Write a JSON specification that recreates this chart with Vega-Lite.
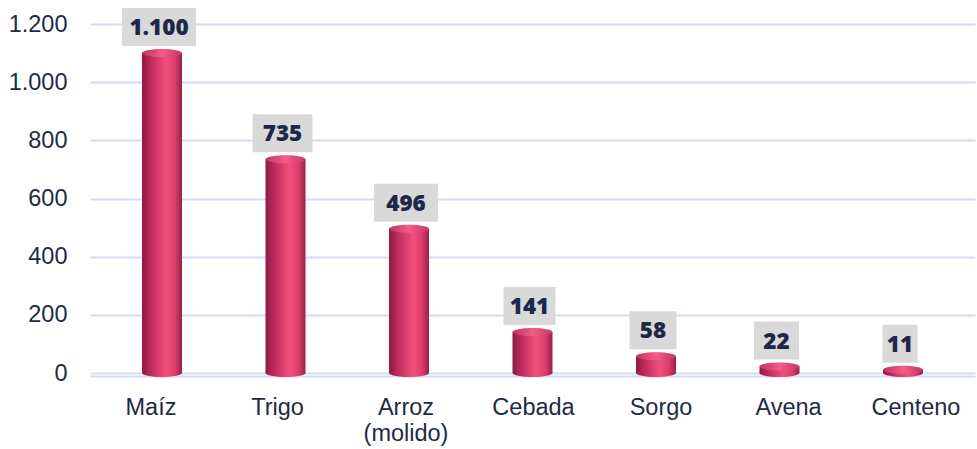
{
  "$schema": "https://vega.github.io/schema/vega-lite/v6.json",
  "autosize": "none",
  "width": 885,
  "height": 349,
  "padding": {"left": 90, "top": 24, "right": 2, "bottom": 76},
  "background": "white",
  "config": {"view": {"stroke": null}, "font": "Liberation Sans"},
  "data": {"values": [
    {"cat": "Maíz", "v": 1100},
    {"cat": "Trigo", "v": 735},
    {"cat": "Arroz (molido)", "v": 496},
    {"cat": "Cebada", "v": 141},
    {"cat": "Sorgo", "v": 58},
    {"cat": "Avena", "v": 22},
    {"cat": "Centeno", "v": 11}
  ]},
  "transform": [{"calculate": "replace(format(datum.v, ','), ',', '.')", "as": "lbl"}],
  "encoding": {
    "x": {"field": "cat", "type": "nominal", "sort": null,
      "scale": {"paddingInner": 0, "paddingOuter": 0.083},
      "axis": {"title": null, "labelAngle": 0, "ticks": false, "offset": 3,
        "domainColor": "#D5DCF0", "domainWidth": 2, "labelFontSize": 23.5, "labelColor": "#1F2A44",
        "labelPadding": 19, "labelLineHeight": 26,
        "labelOffset": {"expr": "datum.value == 'Maíz' ? -11 : datum.value == 'Trigo' ? -8 : datum.value == 'Arroz (molido)' ? -3 : datum.value == 'Cebada' ? 1 : datum.value == 'Sorgo' ? 5 : datum.value == 'Avena' ? 9 : 13"},
        "labelExpr": "split(datum.label, ' ')"}},
    "y": {"field": "v", "type": "quantitative",
      "scale": {"domain": [0, 1200], "nice": false},
      "axis": {"title": null, "values": [0, 200, 400, 600, 800, 1000, 1200], "domain": false, "ticks": false,
        "labelFontSize": 23.5, "labelColor": "#1F2A44", "labelPadding": 23,
        "labelExpr": "replace(format(datum.value, ','), ',', '.')",
        "gridColor": "#D5DCF0", "gridWidth": 2}}
  },
  "layer": [
    {"mark": {"type": "bar", "width": 40,
      "fill": {"gradient": "linear", "x1": 0, "x2": 1, "y1": 0, "y2": 0,
        "stops": [{"offset": 0, "color": "#8E1A43"}, {"offset": 0.25, "color": "#C42D5F"}, {"offset": 0.6, "color": "#F2507E"}, {"offset": 0.82, "color": "#DC3D6C"}, {"offset": 1, "color": "#9A214B"}]}}},
    {"mark": {"type": "point", "filled": true, "size": 4, "opacity": 1,
      "shape": "M-20,0A20,4 0 1,0 20,0A20,4 0 1,0 -20,0Z",
      "fill": {"gradient": "linear", "x1": 0, "x2": 1, "y1": 0, "y2": 0,
        "stops": [{"offset": 0, "color": "#8E1A43"}, {"offset": 0.25, "color": "#C42D5F"}, {"offset": 0.6, "color": "#F2507E"}, {"offset": 0.82, "color": "#DC3D6C"}, {"offset": 1, "color": "#9A214B"}]}},
      "encoding": {"y": {"datum": 0, "type": "quantitative"}}},
    {"mark": {"type": "point", "filled": true, "size": 4, "opacity": 1,
      "shape": "M-20,0A20,4 0 1,0 20,0A20,4 0 1,0 -20,0Z",
      "fill": {"gradient": "linear", "x1": 0, "x2": 1, "y1": 0, "y2": 0,
        "stops": [{"offset": 0, "color": "#C23262"}, {"offset": 0.5, "color": "#F25C88"}, {"offset": 1, "color": "#C93766"}]}}},
    {"mark": {"type": "point", "filled": true, "size": 4, "opacity": 1, "color": "#D9D9D9", "yOffset": -26, "xOffset": -3},
      "encoding": {"shape": {"field": "cat", "type": "nominal", "legend": null,
        "scale": {"domain": ["Maíz", "Trigo", "Arroz (molido)", "Cebada", "Sorgo", "Avena", "Centeno"],
          "range": ["M-37,-19H37V19H-37Z", "M-30,-19H30V19H-30Z", "M-32,-19H32V19H-32Z", "M-26,-19H26V19H-26Z", "M-23.5,-19H23.5V19H-23.5Z", "M-22.5,-19H22.5V19H-22.5Z", "M-17.5,-19H17.5V19H-17.5Z"]}}}},
    {"mark": {"type": "text", "font": "Open Sans", "fontWeight": 800, "fontSize": 22.5, "color": "#1D2747", "yOffset": -25, "xOffset": -3, "baseline": "middle"},
      "encoding": {"text": {"field": "lbl"}}}
  ]
}
